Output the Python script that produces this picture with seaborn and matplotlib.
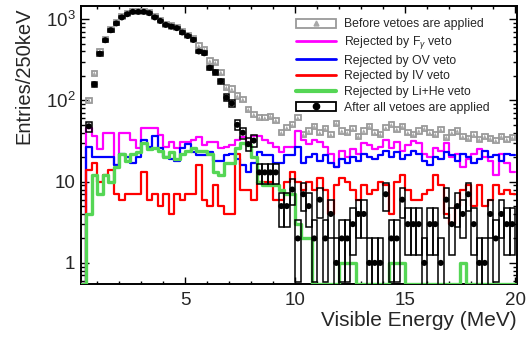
import numpy as np
import pandas as pd
import matplotlib
matplotlib.use("Agg")
import matplotlib.pyplot as plt
import seaborn as sns
from matplotlib.patches import Rectangle
from matplotlib.lines import Line2D
from matplotlib.ticker import MultipleLocator, FixedLocator, FuncFormatter, NullFormatter

# 250 keV bins, 0.25 - 20 MeV (first bin is empty for every sample)
bin_edges = [round(0.25 + 0.25 * k, 3) for k in range(80)]
bin_centers = [e + 0.125 for e in bin_edges[:-1]]

before_veto = [0,
    100, 215, 400, 565, 745, 900, 1065, 1165, 1245, 1245,
    1245, 1200, 1065, 965, 865, 825, 790, 700, 635, 570,
    470, 425, 305, 292, 222, 144, 138, 113, 103, 77,
    67, 61, 61, 64, 57, 40, 46, 50, 61, 38,
    42, 48, 40, 45, 38, 52, 42, 40, 45, 36,
    42, 48, 40, 38, 46, 50, 44, 48, 40, 38,
    42, 45, 40, 38, 44, 35, 40, 42, 36, 34,
    38, 33, 36, 34, 32, 36, 33, 35]

rejected_fgamma = [0,
    46, 36, 25, 40, 40, 16, 40, 40, 33, 26,
    46, 46, 46, 38, 27, 31, 26, 31, 31, 33,
    35, 28, 31, 31, 26, 27, 28, 33, 35, 30,
    36, 36, 33, 30, 27, 23, 27, 27, 42, 33,
    29, 33, 31, 27, 22, 15, 24, 20, 25, 22,
    30, 28, 25, 27, 33, 26, 31, 24, 28, 32,
    30, 22, 20, 26, 24, 30, 20, 22, 15, 19,
    22, 25, 20, 18, 12, 22, 17, 13]

rejected_ov = [0,
    27, 20, 20, 20, 20, 16, 22, 20, 17, 20,
    33, 27, 36, 26, 20, 19, 18, 26, 29, 23,
    21, 21, 23, 18, 18, 21, 22, 19, 16, 13,
    17, 23, 21, 21, 17, 17, 21, 21, 27, 17,
    20, 22, 18, 21, 17, 15, 19, 17, 20, 18,
    22, 20, 19, 21, 24, 20, 23, 19, 21, 24,
    22, 18, 16, 20, 19, 23, 21, 18, 22, 20,
    17, 19, 24, 20, 21, 18, 22, 21]

rejected_iv = [0,
    14, 17, 10, 12, 14, 7, 6, 7, 7, 7,
    13, 6, 7, 5, 7, 4, 7, 6, 7, 7,
    16, 6, 5, 9, 5, 4, 4, 22, 8, 8,
    6, 10, 10, 10, 6, 6, 10, 13, 10, 8,
    10, 8, 11, 8, 4, 9, 11, 10, 8, 6,
    9, 7, 8, 10, 9, 4, 10, 12, 8, 6,
    6, 7, 8, 12, 9, 4, 3, 5, 8, 9,
    5, 9, 5, 6, 9, 7, 8, 7]

rejected_lihe = [0,
    4, 12, 7, 12, 10, 15, 22, 18, 22, 23,
    30, 25, 26, 24, 20, 23, 19, 22, 24, 26,
    24, 24, 22, 13, 12, 17, 17, 26, 30, 28,
    20, 10, 9, 9, 9, 8, 7, 7, 3, 2,
    2, 0, 0, 0, 0, 0, 1, 1, 1, 0,
    0, 0, 0, 0, 0, 1, 1, 1, 0, 0,
    0, 0, 0, 0, 0, 0, 0, 0, 1, 0,
    0, 0, 0, 0, 0, 0, 0, 0]

after_veto = [0,
    48, 158, 375, 550, 730, 885, 1050, 1150, 1230, 1230,
    1230, 1185, 1050, 950, 850, 810, 775, 685, 620, 555,
    400, 380, 252, 222, 172, 108, 92, 50, 40, 29,
    32, 13, 13, 13, 13, 5, 5, 8, 2, 7,
    5, 2, 6, 2, 4, 1, 2, 2, 3, 4,
    4, 1, 1, 1, 7, 2, 2, 6, 3, 3,
    3, 1, 3, 3, 1, 6, 3, 5, 4, 7,
    3, 1, 1, 4, 2, 4, 3, 3]

legend_labels = [
    "Before vetoes are applied",
    r"Rejected by F$_{\gamma}$ veto",
    "Rejected by OV veto",
    "Rejected by IV veto",
    "Rejected by Li+He veto",
    "After all vetoes are applied",
]
x_title = "Visible Energy (MeV)"
y_title = "Entries/250keV"

df = pd.DataFrame({
    "energy": bin_centers,
    "before": before_veto,
    "fgamma": rejected_fgamma,
    "ov": rejected_ov,
    "iv": rejected_iv,
    "lihe": rejected_lihe,
    "after": after_veto,
})

sns.set_theme(style="ticks")
plt.rcParams["font.family"] = ["Liberation Sans", "DejaVu Sans"]
plt.rcParams["mathtext.fontset"] = "custom"
plt.rcParams["mathtext.rm"] = "Liberation Sans"
plt.rcParams["mathtext.it"] = "Liberation Sans:italic"
plt.rcParams["mathtext.sf"] = "Liberation Sans"

W, H = 528, 338
fig = plt.figure(figsize=(W / 100, H / 100), dpi=100)
ax = fig.add_axes([81 / W, 54 / H, 436 / W, 278 / H])

y_lo, y_hi = 0.55, 1450
x_lo, x_hi = 0.27, 20.09
bw = 0.25

# gray error boxes with triangle markers (before vetoes)
nz_b = df[df["before"] > 0]
half = 10 ** 0.032
ax.bar(nz_b["energy"], nz_b["before"] * (half - 1 / half), bottom=nz_b["before"] / half,
       width=bw, fill=False, edgecolor="#9a9a9a", linewidth=1.3, zorder=2)
sns.scatterplot(data=nz_b, x="energy", y="before", marker="^", s=7, color="#a8a8a8",
                edgecolor="none", ax=ax, zorder=2.1, legend=False)

# rejected samples as step histograms (empty bins sit on the lower frame)
series = [("fgamma", "#ff00ff", 1.6), ("ov", "#0000ff", 1.6),
          ("iv", "#ff0000", 1.6), ("lihe", "#55d655", 2.4)]
for col, color, lw in series:
    step_df = pd.DataFrame({"energy": df["energy"],
                            "w": np.clip(df[col].to_numpy(dtype=float), y_lo, None)})
    sns.histplot(data=step_df, x="energy", weights="w", bins=bin_edges, element="step",
                 fill=False, color=color, linewidth=lw, ax=ax, zorder=3)

# after all vetoes: Poisson error boxes + dots
nz_a = df[df["after"] > 0]
n = nz_a["after"].to_numpy(dtype=float)
err = np.sqrt(n)
low = np.where(n - err > 0, n - err, y_lo * 0.5)
ax.bar(nz_a["energy"], n + err - low, bottom=low, width=bw, fill=False,
       edgecolor="black", linewidth=1.1, zorder=4)
sns.scatterplot(data=nz_a, x="energy", y="after", marker="o", s=19, color="black",
                edgecolor="none", ax=ax, zorder=5, legend=False)

ax.set_yscale("log")
ax.set_xlim(x_lo, x_hi)
ax.set_ylim(y_lo, y_hi)
ax.set_xlabel("")
ax.set_ylabel("")

# axis styling
for sp in ax.spines.values():
    sp.set_linewidth(1.4)
    sp.set_color("black")
    sp.set_visible(True)
ax.xaxis.set_major_locator(FixedLocator([5, 10, 15, 20]))
ax.xaxis.set_minor_locator(MultipleLocator(1))
ax.yaxis.set_major_locator(FixedLocator([1, 10, 100, 1000]))
ax.yaxis.set_minor_locator(FixedLocator([m * 10 ** e for e in range(-1, 4) for m in range(2, 10)]))
ax.yaxis.set_minor_formatter(NullFormatter())
ylab = {1: "1", 10: "10", 100: r"$10^{2}$", 1000: r"$10^{3}$"}
ax.yaxis.set_major_formatter(FuncFormatter(lambda v, p: ylab.get(int(round(v)), "")))
ax.tick_params(axis="both", which="both", direction="in", top=True, right=True, color="black")
ax.tick_params(axis="x", which="major", length=5, width=1.0, labelsize=13.5, pad=6)
ax.tick_params(axis="x", which="minor", length=2.5, width=1.0)
ax.tick_params(axis="y", which="major", length=6, width=1.0, labelsize=13.5, pad=4)
ax.tick_params(axis="y", which="minor", length=3, width=1.0)

fig.text(517 / W, 1 - 321 / H, x_title, ha="right", va="center", fontsize=15)
fig.text(23.5 / W, 1 - 8 / H, y_title, ha="center", va="top", rotation=90, fontsize=14.5)

# legend
handles = [
    (Rectangle((0, 0), 1, 1, fill=False, edgecolor="#9a9a9a", linewidth=1.3),
     Line2D([], [], marker="^", color="#a8a8a8", linestyle="none", markersize=3.5)),
    Line2D([], [], color="#ff00ff", linewidth=2),
    Line2D([], [], color="#0000ff", linewidth=2),
    Line2D([], [], color="#ff0000", linewidth=2),
    Line2D([], [], color="#55d655", linewidth=3),
    (Rectangle((0, 0), 1, 1, fill=False, edgecolor="black", linewidth=1.3),
     Line2D([], [], marker="o", color="black", linestyle="none", markersize=4.5)),
]
leg = fig.legend(handles, legend_labels, loc="upper left",
                 bbox_to_anchor=(296 / W, 1 - 18.5 / H), frameon=False,
                 fontsize=8.8, handlelength=3.3, handleheight=0.8,
                 handletextpad=0.65, labelspacing=0.3, borderpad=0, borderaxespad=0)

fig.savefig("out.png", dpi=100)
